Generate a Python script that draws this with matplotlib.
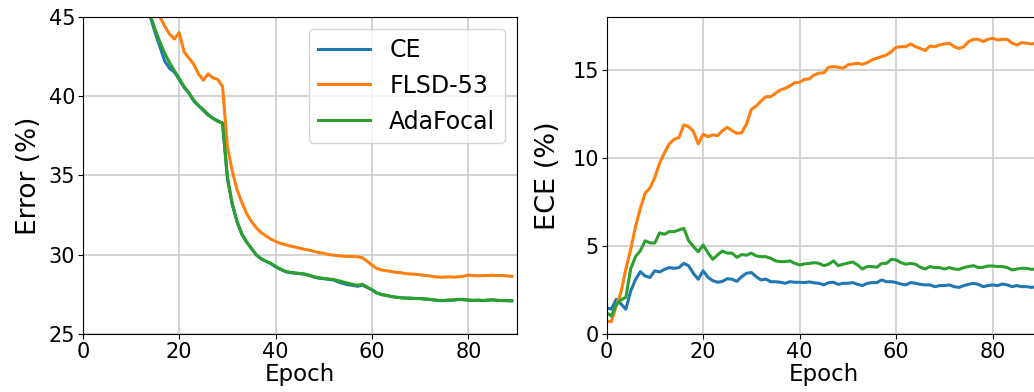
import numpy as np
import matplotlib
matplotlib.use("Agg")
import matplotlib.pyplot as plt

# ── Error (%) per epoch, left panel (values above 45 sit outside the view) ──
err_epochs = list(range(13, 90))
err_ce = [46.0, 45.0, 44.0, 43.1, 42.2, 41.75, 41.5, 41.05, 40.55, 40.2,
          39.7, 39.4, 39.1, 38.8, 38.6, 38.45, 38.3, 34.8, 33.2, 32.1,
          31.3, 30.8, 30.4, 30.0, 29.75, 29.6, 29.45, 29.25, 29.1, 28.95,
          28.88, 28.85, 28.82, 28.78, 28.7, 28.6, 28.53, 28.5, 28.46, 28.42,
          28.3, 28.2, 28.12, 28.08, 28.02, 28.1, 27.95, 27.8, 27.6, 27.5,
          27.45, 27.38, 27.33, 27.3, 27.28, 27.27, 27.25, 27.25, 27.22, 27.2,
          27.15, 27.12, 27.12, 27.15, 27.15, 27.2, 27.18, 27.15, 27.13, 27.15,
          27.12, 27.15, 27.17, 27.13, 27.12, 27.12, 27.1]
err_ada = [46.2, 45.1, 44.2, 43.4, 42.7, 42.1, 41.6, 41.1, 40.6, 40.2,
           39.75, 39.4, 39.15, 38.85, 38.6, 38.4, 38.3, 34.9, 33.2, 32.1,
           31.3, 30.8, 30.4, 30.0, 29.75, 29.6, 29.47, 29.28, 29.1, 28.97,
           28.9, 28.87, 28.83, 28.8, 28.72, 28.62, 28.56, 28.52, 28.48, 28.45,
           28.38, 28.3, 28.22, 28.15, 28.08, 28.15, 27.97, 27.8, 27.6, 27.5,
           27.45, 27.38, 27.34, 27.3, 27.28, 27.27, 27.26, 27.25, 27.22, 27.2,
           27.16, 27.13, 27.13, 27.15, 27.16, 27.2, 27.18, 27.16, 27.14, 27.15,
           27.13, 27.15, 27.17, 27.14, 27.13, 27.12, 27.12]
err_flsd = [47.5, 46.6, 45.8, 45.0, 44.4, 43.9, 43.6, 44.0, 42.8, 42.4,
            42.0, 41.4, 41.0, 41.4, 41.15, 41.05, 40.6, 36.8, 35.3, 34.1,
            33.3, 32.6, 32.1, 31.7, 31.4, 31.2, 31.0, 30.85, 30.72, 30.65,
            30.56, 30.5, 30.42, 30.35, 30.3, 30.22, 30.15, 30.1, 30.02, 29.98,
            29.95, 29.92, 29.9, 29.9, 29.88, 29.82, 29.6, 29.35, 29.15, 29.05,
            29.0, 28.95, 28.9, 28.88, 28.82, 28.8, 28.78, 28.75, 28.7, 28.68,
            28.62, 28.6, 28.6, 28.62, 28.6, 28.62, 28.65, 28.73, 28.7, 28.68,
            28.7, 28.7, 28.72, 28.7, 28.7, 28.68, 28.65]

# ── ECE (%) per epoch, right panel ──
ece_epochs = list(range(0, 90))
ece_ce = [1.5, 1.42, 1.98, 1.72, 1.42, 2.45, 3.1, 3.55, 3.3, 3.22,
          3.6, 3.53, 3.68, 3.78, 3.74, 3.78, 4.02, 3.88, 3.45, 3.12,
          3.6, 3.23, 3.04, 2.95, 3.0, 3.15, 3.12, 3.0, 3.27, 3.46,
          3.5, 3.27, 3.08, 3.13, 2.98, 2.98, 2.95, 2.89, 2.98, 2.95,
          2.95, 2.93, 2.97, 2.92, 2.89, 2.8, 2.93, 2.95, 2.83, 2.89,
          2.89, 2.93, 2.83, 2.76, 2.89, 2.93, 2.93, 3.08, 2.98, 2.98,
          2.93, 2.85, 2.8, 2.93, 2.89, 2.83, 2.8, 2.8, 2.7, 2.76,
          2.76, 2.8, 2.7, 2.66, 2.76, 2.83, 2.89, 2.83, 2.7, 2.76,
          2.8, 2.76, 2.85, 2.8, 2.7, 2.76, 2.7, 2.7, 2.66, 2.68]
ece_ada = [1.22, 1.04, 1.66, 1.96, 2.1, 3.7, 4.4, 4.74, 5.3, 5.18,
           5.17, 5.75, 5.67, 5.82, 5.82, 5.91, 6.01, 5.31, 4.97, 4.68,
           5.06, 4.63, 4.25, 4.5, 4.72, 4.6, 4.6, 4.36, 4.52, 4.48,
           4.6, 4.44, 4.4, 4.4, 4.31, 4.16, 4.12, 4.12, 4.16, 4.02,
           3.93, 3.99, 4.02, 4.06, 4.02, 3.89, 3.97, 4.16, 3.89, 3.97,
           4.04, 4.1, 3.93, 3.7, 3.84, 3.84, 3.8, 4.02, 4.02, 4.25,
           4.21, 4.06, 3.97, 4.02, 3.97, 3.8, 3.7, 3.84, 3.78, 3.78,
           3.7, 3.78, 3.7, 3.68, 3.78, 3.84, 3.89, 3.78, 3.8, 3.87,
           3.87, 3.84, 3.84, 3.78, 3.65, 3.7, 3.74, 3.74, 3.68, 3.7]
ece_flsd = [0.72, 0.72, 1.6, 2.4, 3.7, 4.8, 6.1, 7.14, 8.0, 8.3,
            8.9, 9.7, 10.3, 10.79, 11.05, 11.15, 11.87, 11.77, 11.49, 10.79,
            11.34, 11.2, 11.3, 11.26, 11.54, 11.73, 11.54, 11.39, 11.43, 11.92,
            12.75, 12.94, 13.22, 13.47, 13.47, 13.66, 13.85, 13.94, 14.08, 14.26,
            14.28, 14.45, 14.47, 14.7, 14.8, 14.82, 15.14, 15.17, 15.14, 15.08,
            15.27, 15.32, 15.36, 15.3, 15.4, 15.55, 15.65, 15.74, 15.83, 16.02,
            16.27, 16.3, 16.3, 16.46, 16.3, 16.2, 16.08, 16.34, 16.3, 16.4,
            16.46, 16.49, 16.3, 16.2, 16.3, 16.59, 16.72, 16.72, 16.59, 16.72,
            16.78, 16.68, 16.72, 16.72, 16.5, 16.4, 16.53, 16.5, 16.45, 16.5]

labels = ["CE", "FLSD-53", "AdaFocal"]
colors = ["#1f77b4", "#ff7f0e", "#2ca02c"]

fig = plt.figure(figsize=(10.34, 3.92), dpi=100)

# left panel
ax1 = fig.add_axes([0.0801, 0.1472, 0.4195, 0.8102])
for y, lab, c in zip([err_ce, err_flsd, err_ada], labels, colors):
    ax1.plot(err_epochs, y, color=c, lw=2.2, label=lab)
ax1.set_xlim(0, 90)
ax1.set_ylim(25, 45)
ax1.set_xticks([0, 20, 40, 60, 80])
ax1.set_yticks([25, 30, 35, 40, 45])
ax1.set_xlabel("Epoch", fontsize=16.5, labelpad=1)
ax1.set_ylabel("Error (%)", fontsize=19, labelpad=5)
ax1.tick_params(labelsize=15, pad=2)
ax1.grid(color="#c8c8c8", linewidth=1.1)
ax1.legend(fontsize=17, loc="upper right", handlelength=2.2)

# right panel (runs off the right edge of the picture, as in the original)
ax2 = fig.add_axes([0.5866, 0.1472, 0.4202, 0.8102])
for y, lab, c in zip([ece_ce, ece_flsd, ece_ada], labels, colors):
    ax2.plot(ece_epochs, y, color=c, lw=2.2, label=lab)
ax2.set_xlim(0, 90)
ax2.set_ylim(0, 18)
ax2.set_xticks([0, 20, 40, 60, 80])
ax2.set_yticks([0, 5, 10, 15])
ax2.set_xlabel("Epoch", fontsize=16.5, labelpad=1)
ax2.set_ylabel("ECE (%)", fontsize=19.5, labelpad=8)
ax2.tick_params(labelsize=15, pad=2)
ax2.grid(color="#c8c8c8", linewidth=1.1)

fig.savefig("out.png", dpi=100)
